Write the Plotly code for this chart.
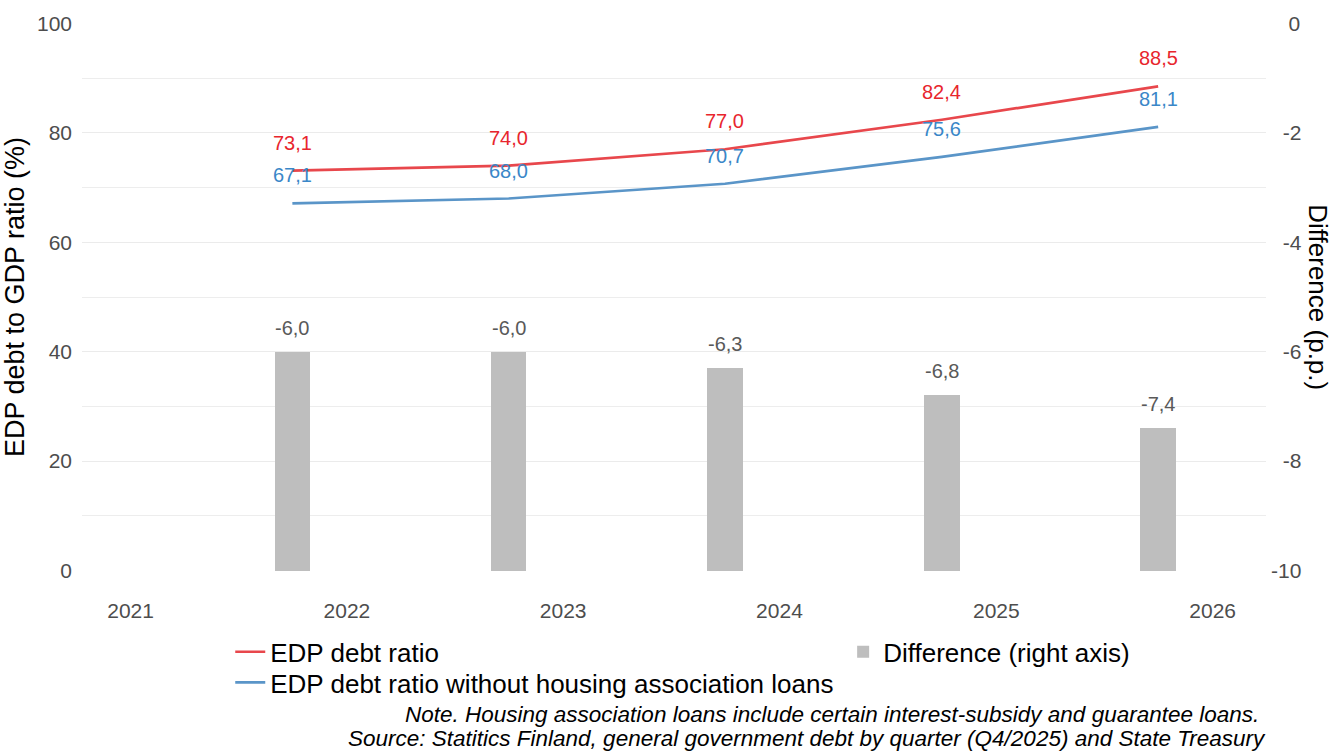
import plotly.graph_objects as go

# Q4 observations (start of quarter)
quarters = ["2021-10-01", "2022-10-01", "2023-10-01", "2024-10-01", "2025-10-01"]
edp_ratio = [73.1, 74.0, 77.0, 82.4, 88.5]
edp_ratio_excl_housing = [67.1, 68.0, 70.7, 75.6, 81.1]
difference = [-6.0, -6.0, -6.3, -6.8, -7.4]

year_ticks = ["2021-01-01", "2022-01-01", "2023-01-01", "2024-01-01", "2025-01-01", "2026-01-01"]
year_labels = ["2021", "2022", "2023", "2024", "2025", "2026"]
left_ticks = [0, 20, 40, 60, 80, 100]
right_ticks = [-10, -8, -6, -4, -2, 0]

caption_lines = [
    "Note. Housing association loans include certain interest-subsidy and guarantee loans.",
    "Source: Statitics Finland, general government debt by quarter (Q4/2025) and State Treasury",
]

RED_LINE = "#E8474C"
RED_TEXT = "#E8262D"
BLUE_LINE = "#5A95C8"
BLUE_TEXT = "#3A87C8"
BAR_GREY = "#BEBEBE"
FONT = "Liberation Sans, Arial, sans-serif"

# plot-area geometry in pixels
W, H = 1335, 751
L, R, T, B = 76, 69, 17, 180
PW, PH = W - L - R, H - T - B


def fmt(v):
    return f"{v:.1f}".replace(".", ",")


def right_label(v):
    # hyphen-minus, right-aligned with figure / punctuation spaces
    s = f"{v:d}"
    pad = {1: "\u2007\u2008", 2: "\u2007", 3: ""}[len(s)]
    return pad + s


def px_x(px):
    return (px - L) / PW


def px_y(py):
    return (H - B - py) / PH


fig = go.Figure()

# Bars hang from the bottom of the right axis (-10)
fig.add_trace(go.Bar(
    x=quarters, y=[d - (-10) for d in difference], base=-10,
    yaxis="y2", marker=dict(color=BAR_GREY, line=dict(width=0)),
    width=60 * 86400000, name="Difference (right axis)",
    legend="legend2", hoverinfo="skip",
))

fig.add_trace(go.Scatter(
    x=quarters, y=edp_ratio, mode="lines",
    line=dict(color=RED_LINE, width=2.7), name="EDP debt ratio",
    legend="legend",
))
fig.add_trace(go.Scatter(
    x=quarters, y=edp_ratio_excl_housing, mode="lines",
    line=dict(color=BLUE_LINE, width=2.7),
    name="EDP debt ratio without housing association loans",
    legend="legend3",
))

annotations = []
for xq, v in zip(quarters, edp_ratio):
    annotations.append(dict(x=xq, y=v, xref="x", yref="y", text=fmt(v), showarrow=False,
                            yshift=28, font=dict(size=20, color=RED_TEXT, family=FONT)))
for xq, v in zip(quarters, edp_ratio_excl_housing):
    annotations.append(dict(x=xq, y=v, xref="x", yref="y", text=fmt(v), showarrow=False,
                            yshift=28, font=dict(size=20, color=BLUE_TEXT, family=FONT)))
for xq, d in zip(quarters, difference):
    annotations.append(dict(x=xq, y=d, xref="x", yref="y2", text=fmt(d), showarrow=False,
                            yshift=24, font=dict(size=20, color="#595959", family=FONT)))

# Right axis title reads top-to-bottom
annotations.append(dict(x=px_x(1318), y=px_y(294), xref="paper", yref="paper",
                        text="Difference (p.p.)",
                        textangle=90, showarrow=False, xanchor="center", yanchor="middle",
                        font=dict(size=26, color="black", family=FONT)))

# Caption, right aligned, one annotation per line
for line, cx, cy in zip(caption_lines, [1261, 1268], [716, 740]):
    annotations.append(dict(
        x=px_x(cx), y=px_y(cy), xref="paper", yref="paper", showarrow=False,
        text=f"<i>{line}</i>", xanchor="right", yanchor="middle",
        font=dict(size=22.5, color="black", family=FONT),
    ))

legend_common = dict(
    xanchor="left", yanchor="top", orientation="v",
    font=dict(size=26, color="black"), bgcolor="rgba(0,0,0,0)", itemwidth=30,
)

fig.update_layout(
    width=W, height=H,
    margin=dict(l=L, r=R, t=T, b=B),
    paper_bgcolor="white", plot_bgcolor="white",
    font=dict(family=FONT, color="#4D4D4D"),
    showlegend=True,
    xaxis=dict(
        type="date", range=["2020-10-11", "2026-04-01"],
        tickvals=year_ticks, ticktext=year_labels,
        showgrid=False, zeroline=False, showline=False, ticks="",
        tickfont=dict(size=21, color="#4D4D4D"), ticklabelstandoff=25,
    ),
    yaxis=dict(
        range=[-0.08, 100.08], tickvals=left_ticks,
        showgrid=True, gridcolor="#EBEBEB", gridwidth=1.3,
        minor=dict(tickvals=[10, 30, 50, 70, 90], showgrid=True, gridcolor="#EDEDED", gridwidth=1),
        zeroline=False, showline=False, ticks="",
        tickfont=dict(size=21, color="#4D4D4D"), ticklabelstandoff=9,
        title=dict(text="EDP debt to GDP ratio (%)", font=dict(size=27, color="black"), standoff=6),
    ),
    yaxis2=dict(
        overlaying="y", side="right", range=[-10.008, 0.008],
        tickvals=right_ticks, ticktext=[right_label(v) for v in right_ticks],
        showgrid=False, zeroline=False, showline=False, ticks="",
        tickfont=dict(size=21, color="#4D4D4D"), ticklabelstandoff=4,
    ),
    legend=dict(x=px_x(225), y=px_y(629), **legend_common),
    legend3=dict(x=px_x(225), y=px_y(660), **legend_common),
    legend2=dict(x=px_x(841), y=px_y(629), **legend_common),
    annotations=annotations,
    bargap=0,
)

fig.write_html("out.html")
